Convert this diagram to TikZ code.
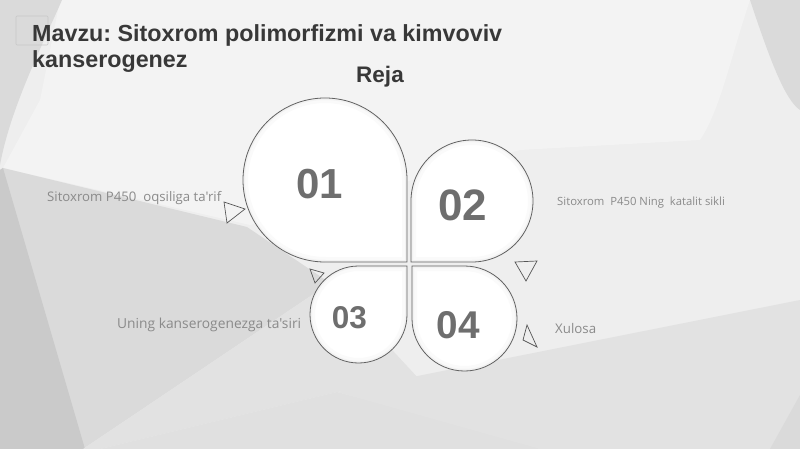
\documentclass[tikz,border=0pt]{standalone}
\usepackage{fontspec}
\setmainfont{Liberation Sans}
\newfontfamily\labelfont{Open Sans}
\frenchspacing
\definecolor{bgbase}{HTML}{EEEEEE}
\definecolor{bglight}{HTML}{F3F3F3}
\definecolor{bgmid}{HTML}{DADADA}
\definecolor{bgdark}{HTML}{CACACA}
\definecolor{bgsoft}{HTML}{E2E2E2}
\definecolor{titlegray}{HTML}{383838}
\definecolor{numgray}{HTML}{6E6E6E}
\definecolor{labelgray}{HTML}{8A8A8A}
\definecolor{edgegray}{HTML}{606060}
\definecolor{triedge}{HTML}{555555}
\newcommand\petalOne{(407,262) -- (325,262) arc[start angle=90,end angle=360,radius=82] -- cycle}
\newcommand\petalTwo{(411,262) -- (411,201) arc[start angle=180,end angle=450,radius=61] -- cycle}
\newcommand\petalThree{(407,266) -- (407,314.5) arc[start angle=0,end angle=270,radius=48.5] -- cycle}
\newcommand\petalFour{(412,266) -- (464.5,266) arc[start angle=270,end angle=540,radius=52.5] -- cycle}
\tikzset{
  petal/.style={draw=edgegray, line width=0.8pt},
  tri/.style={draw=triedge, line width=0.7pt, line join=miter},
  titletext/.style={font=\fontsize{23.3}{27}\selectfont\bfseries, text=titlegray, inner sep=0pt},
  numtext/.style={font=\fontsize{#1}{#1}\selectfont\bfseries, text=numgray, inner sep=0pt, anchor=base},
  labeltext/.style={font=\labelfont\fontsize{#1}{#1}\selectfont, text=labelgray, inner sep=0pt, anchor=base west},
}
\begin{document}
\begin{tikzpicture}[x=1pt,y=-1pt]
\useasboundingbox (0,0) rectangle (800,449);
% background
\fill[bgbase] (0,0) rectangle (800,449);
\fill[bglight] (60,0) -- (750,0) .. controls (730,60) and (720,110) .. (700,140) -- (520,150) -- (250,225) -- (3,168) -- (40,100) -- cycle;
\fill[bgmid] (0,0) -- (62,0) .. controls (40,50) and (10,110) .. (0,165) -- cycle;
\fill[bgmid] (3,168) -- (247,227) -- (330,283) -- (83,449) -- (0,449) -- (0,170) -- cycle;
\fill[bgdark] (0,170) -- (3,168) -- (85,449) -- (0,449) -- cycle;
\fill[bgsoft] (83,449) -- (330,283) -- (420,380) -- (337,392) -- (100,449) -- cycle;
\fill[bgmid!70!bgbase] (100,449) -- (337,392) -- (520,440) -- (540,449) -- cycle;
\fill[bgsoft] (337,392) -- (800,300) -- (800,449) -- (540,449) -- cycle;
\fill[bgmid] (750,0) -- (800,0) -- (800,110) .. controls (785,100) and (770,60) .. (750,0) -- cycle;
\fill[bgmid] (770,449) -- (800,395) -- (800,449) -- cycle;
% placeholder box
\draw[black!22, line width=0.6pt, rounded corners=1pt] (16,16) rectangle (48,45);
% petals
\foreach \p in {\petalOne,\petalTwo,\petalThree,\petalFour}{
  \fill[white] \p;
  \begin{scope}
    \clip \p;
    \draw[line width=10pt, black!2] \p;
    \draw[line width=4pt, black!5] \p;
  \end{scope}
  \draw[petal] \p;
}
% triangles
\draw[tri] (224,202) -- (245,209) -- (227,223) -- cycle;
\draw[tri] (515,262) -- (537,261) -- (526,281) -- cycle;
\draw[tri] (310,269) -- (324,273) -- (315,283) -- cycle;
\draw[tri] (527,325) -- (523,340) -- (537,347) -- cycle;
% titles
\node[titletext, anchor=base west] (title1) at (32,42) {Mavzu: Sitoxrom polimorfizmi va kimvoviv};
\node[titletext, anchor=base west] (title2) at (32,68) {kanserogenez};
\node[font=\fontsize{22.5}{26}\selectfont\bfseries, text=titlegray, inner sep=0pt, anchor=base] (reja) at (380,83) {Reja};
% numbers
\node[numtext=42] (n01) at (320,198) {01};
\node[numtext=44] (n02) at (462.5,220) {02};
\node[numtext=31.5] (n03) at (349.5,328) {03};
\node[numtext=38.7] (n04) at (458.5,338) {04};
% labels
\node[labeltext=13.2] (l1) at (47,202) {Sitoxrom P450\ \ oqsiliga ta'rif};
\node[labeltext=11.3] (l2) at (557,206) {Sitoxrom\ \ P450 Ning\ \ katalit sikli};
\node[labeltext=13.8] (l3) at (117,328) {Uning kanserogenezga ta'siri};
\node[labeltext=13.3] (l4) at (555,333) {Xulosa};
\end{tikzpicture}
\end{document}
